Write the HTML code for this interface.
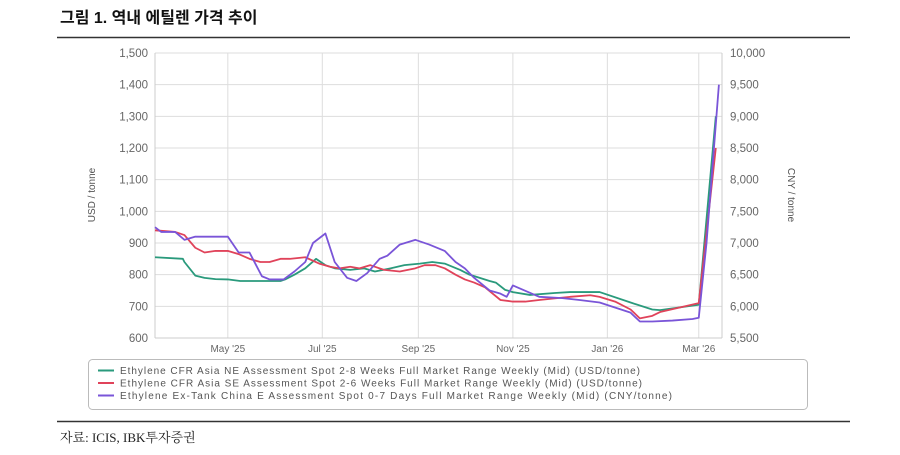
<!DOCTYPE html>
<html><head><meta charset="utf-8"><style>
body{margin:0;background:#fff;width:900px;height:450px;overflow:hidden;font-family:"Liberation Sans","Noto Sans CJK KR",sans-serif}
</style></head><body>
<svg width="900" height="450" xmlns="http://www.w3.org/2000/svg">
<text x="60" y="23" font-size="16" font-weight="bold" fill="#111" font-family="Liberation Sans, Noto Sans CJK KR, sans-serif">그림 1. 역내 에틸렌 가격 추이</text>
<line x1="57" y1="37.5" x2="850" y2="37.5" stroke="#333" stroke-width="1.5"/>
<g id="grid"></g>
<g id="axes" font-size="11.5" fill="#666"></g>
<g id="series"></g>
<text transform="translate(95,195) rotate(-90)" text-anchor="middle" font-size="10" fill="#555">USD / tonne</text>
<text transform="translate(788,195) rotate(90)" text-anchor="middle" font-size="10" fill="#555">CNY / tonne</text>
<rect x="88.5" y="359.5" width="719" height="50" rx="4" fill="none" stroke="#bbb"/>
<g id="legend" font-size="10" fill="#555"></g>
<line x1="57" y1="421.5" x2="850" y2="421.5" stroke="#333" stroke-width="1.5"/>
<text x="60" y="442" font-size="13" fill="#222" font-family="Liberation Serif, Noto Serif CJK SC, serif">자료: ICIS, IBK투자증권</text>
</svg>
<script>
const leftTicks=[600,700,800,900,1000,1100,1200,1300,1400,1500];
const leftTickLabels=["600","700","800","900","1,000","1,100","1,200","1,300","1,400","1,500"];
const rightTicks=[5500,6000,6500,7000,7500,8000,8500,9000,9500,10000];
const rightTickLabels=["5,500","6,000","6,500","7,000","7,500","8,000","8,500","9,000","9,500","10,000"];
const monthDays=[47,108,170,231,292,351];
const monthLabels=["May '25","Jul '25","Sep '25","Nov '25","Jan '26","Mar '26"];
const seriesNames=["Ethylene CFR Asia NE Assessment Spot 2-8 Weeks Full Market Range Weekly (Mid) (USD/tonne)","Ethylene CFR Asia SE Assessment Spot 2-6 Weeks Full Market Range Weekly (Mid) (USD/tonne)","Ethylene Ex-Tank China E Assessment Spot 0-7 Days Full Market Range Weekly (Mid) (CNY/tonne)"];
const neDays=[0,18,19,26,32,39,47,55,68,81,84,90,97,104,110,116,126,135,142,152,161,171,179,187,197,203,216,220,226,231,242,258,268,287,307,321,326,351,362];
const neUSD=[855,850,840,797,790,786,785,780,780,780,785,800,820,850,830,820,815,820,810,820,830,835,840,835,815,800,780,775,752,745,736,742,745,745,712,690,688,705,1300];
const seDays=[0,13,19,26,32,39,47,54,61,68,74,81,87,97,106,113,119,126,132,139,148,158,168,174,181,187,194,200,206,213,223,231,239,248,258,268,281,287,297,307,313,321,326,351,362];
const seUSD=[940,935,925,885,870,875,875,865,850,840,840,850,850,855,835,825,820,825,820,830,815,810,820,830,830,820,800,785,775,760,720,715,715,720,725,730,735,730,715,690,662,670,682,710,1200];
const cnDays=[0,4,13,19,26,47,54,61,69,74,83,90,97,102,110,116,124,130,137,145,150,158,168,177,187,194,200,206,216,223,227,231,248,263,274,287,307,313,321,334,347,351,356,364];
const cnCNY=[7250,7175,7175,7050,7100,7100,6850,6850,6475,6425,6425,6550,6700,7000,7150,6700,6450,6400,6525,6750,6800,6975,7050,6975,6875,6700,6600,6450,6250,6200,6150,6330,6150,6130,6100,6060,5900,5760,5760,5775,5800,5820,7000,9500];
const NS="http://www.w3.org/2000/svg";
const X0=155,X1=722,D0=0,D1=366,Y0=338,Y1=53;
const xs=d=>X0+(d-D0)/(D1-D0)*(X1-X0);
const yL=v=>Y0-(v-600)/(1500-600)*(Y0-Y1);
const yR=v=>Y0-(v-5500)/(10000-5500)*(Y0-Y1);
function mk(tag,attrs,parent){const e=document.createElementNS(NS,tag);for(const k in attrs)e.setAttribute(k,attrs[k]);parent.appendChild(e);return e;}
const grid=document.getElementById('grid'),axes=document.getElementById('axes'),ser=document.getElementById('series'),leg=document.getElementById('legend');
leftTicks.forEach((v,i)=>{
  const l=mk('line',{x1:X0,x2:X1,y1:yL(v),y2:yL(v),stroke:'#ddd'},grid);
  
  
  const t=mk('text',{x:X0-7,y:yL(v)+4,'text-anchor':'end'},axes);t.textContent=leftTickLabels[i];
  
  
});
rightTicks.forEach((v,i)=>{
  const t=mk('text',{x:X1+8,y:yR(v)+4,'text-anchor':'start'},axes);t.textContent=rightTickLabels[i];
  
  
});
monthDays.forEach((d,i)=>{
  const l=mk('line',{x1:xs(d),x2:xs(d),y1:Y1,y2:Y0,stroke:'#ddd'},grid);
  
  
  const t=mk('text',{x:xs(d),y:Y0+14,'text-anchor':'middle','font-size':'10'},axes);t.textContent=monthLabels[i];
  
  
});
const ax=mk('line',{x1:X0,x2:X1,y1:Y0,y2:Y0,stroke:'#ccc'},grid);


const ax2=mk('line',{x1:X0,x2:X0,y1:Y1,y2:Y0,stroke:'#ccc'},grid);


const ax3=mk('line',{x1:X1,x2:X1,y1:Y1,y2:Y0,stroke:'#ccc'},grid);


function line(days,vals,yf,color,name){
  const p=mk('polyline',{points:days.map((d,i)=>xs(d)+','+yf(vals[i])).join(' '),fill:'none',stroke:color,'stroke-width':'1.8','stroke-linejoin':'round'},ser);
  
  
}
line(neDays,neUSD,yL,'#2a9a7c','series-ne-asia-usd');
line(seDays,seUSD,yL,'#e0435a','series-se-asia-usd');
line(cnDays,cnCNY,yR,'#7a55d8','series-china-cny');
const colors=['#2a9a7c','#e0435a','#7a55d8'];
const widths=[520,522,552];
seriesNames.forEach((n,i)=>{
  const y=374+i*12.5;
  const l=mk('line',{x1:98,x2:114,y1:y-3.5,y2:y-3.5,stroke:colors[i],'stroke-width':'2'},leg);
  
  
  const t=mk('text',{x:120,y:y,textLength:widths[i],lengthAdjust:'spacing'},leg);t.textContent=n;
  
  
});
</script>
</body></html>
